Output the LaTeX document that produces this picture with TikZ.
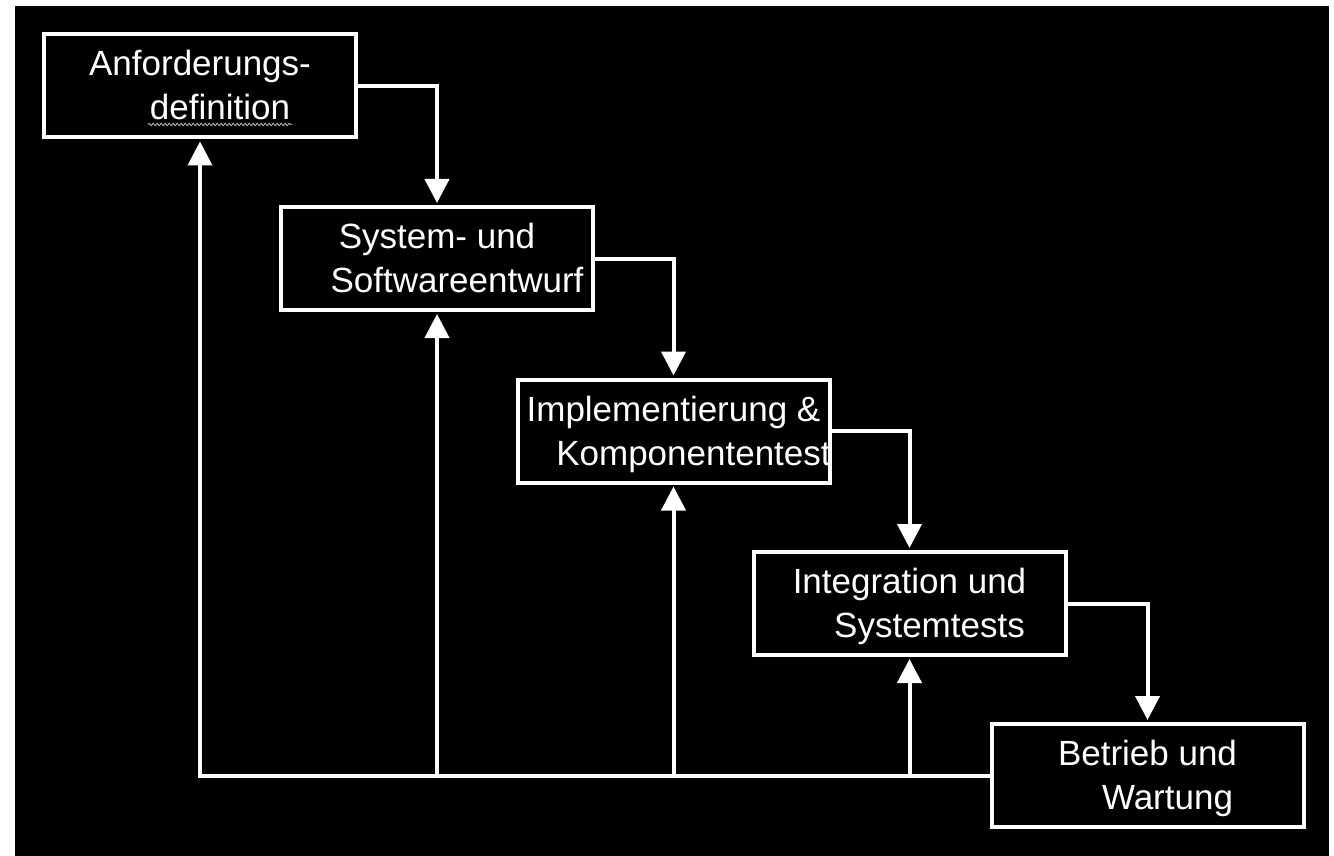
\documentclass[tikz,border=0pt]{standalone}
\usepackage{fontspec}
\setmainfont{Liberation Sans}
\usetikzlibrary{arrows.meta,decorations.pathmorphing}
\newcommand\myTopStrut{\rule{0pt}{32pt}}
\newcommand\myBotStrut{\rule[-8pt]{0pt}{8pt}}
\begin{document}
\begin{tikzpicture}[x=1pt,y=-1pt,
  box/.style={draw=white, fill=black, line width=4pt, minimum width=312pt, minimum height=103pt, inner sep=0pt},
  txt/.style={text=white, font=\fontsize{35}{44}\selectfont, align=center, inner sep=0pt},
  link/.style={draw=white, line width=4pt},
  conn/.style={link, -{Triangle[width=24pt,length=24pt]}, shorten >=2pt}]
\fill[white] (0,0) rectangle (1334,856);
\fill[black] (15,6) rectangle (1329,856);
\useasboundingbox (0,0) rectangle (1334,856);

\node[box] (b1) at (200,86) {};
\node[box] (b2) at (437,258.5) {};
\node[box] (b3) at (673.5,431) {};
\node[box] (b4) at (909.5,603.5) {};
\node[box] (b5) at (1147.5,775.5) {};

\node[txt] (t1) at (b1.center) {\myTopStrut Anforderungs-\\\hspace*{40pt}definition\myBotStrut};
\node[txt] (t2) at (b2.center) {\myTopStrut System- und\\\hspace*{40pt}Softwareentwurf\myBotStrut};
\node[txt] (t3) at (b3.center) {\myTopStrut Implementierung \&\\\hspace*{40pt}Komponententest\myBotStrut};
\node[txt] (t4) at (b4.center) {\myTopStrut Integration und\\\hspace*{40pt}Systemtests\myBotStrut};
\node[txt] (t5) at (b5.center) {\myTopStrut Betrieb und\\\hspace*{40pt}Wartung\myBotStrut};

% spell-check squiggle under "definition"
\draw[gray!70!white, line width=1pt, decorate, decoration={snake, amplitude=1.2pt, segment length=4pt}] (148,124.5) -- (292,124.5);

% forward flow
\draw[conn] (b1.east) -| (b2.north);
\draw[conn] (b2.east) -| (b3.north);
\draw[conn] (b3.east) -| (b4.north);
\draw[conn] (b4.east) -| (b5.north);

% feedback
\draw[conn] (b5.west) -| (b1.south);
\draw[conn] (b5.west -| b2.south) -- (b2.south);
\draw[conn] (b5.west -| b3.south) -- (b3.south);
\draw[conn] (b5.west -| b4.south) -- (b4.south);
\end{tikzpicture}
\end{document}
